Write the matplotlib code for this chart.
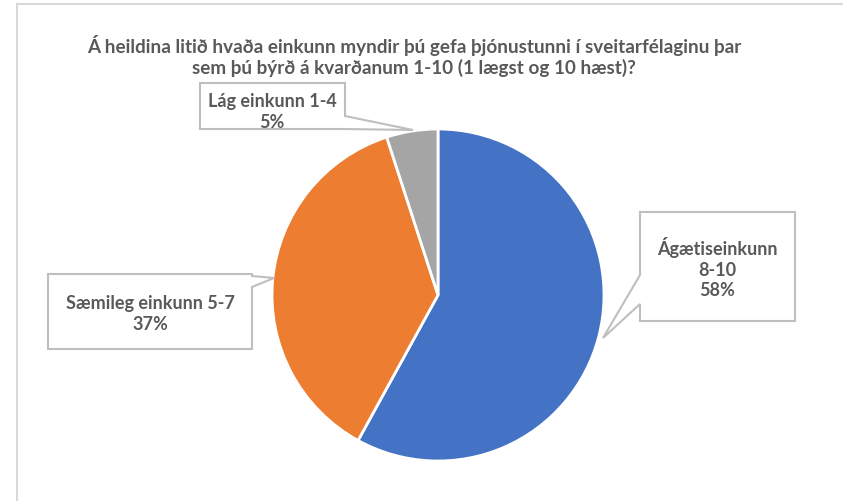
import matplotlib.pyplot as plt
from matplotlib.patches import Polygon

# data
labels = ["Ágætiseinkunn\n8-10", "Sæmileg einkunn 5-7", "Lág einkunn 1-4"]
shares = [58, 37, 5]
colors = ["#4472C4", "#ED7D31", "#A5A5A5"]
title = ("Á heildina litið hvaða einkunn myndir þú gefa þjónustunni í sveitarfélaginu þar\n"
         "sem þú býrð á kvarðanum 1-10 (1 lægst og 10 hæst)?")

W, H = 843, 501
txt_col = "#595959"
box_col = "#BFBFBF"
plt.rcParams['font.family'] = ['Lato', 'DejaVu Sans']

fig = plt.figure(figsize=(W/100, H/100), dpi=100)

# pie axes, placed in pixel terms
cx, cy, r = 438, 295, 166
ax = fig.add_axes([(cx-r)/W, (H-cy-r)/H, 2*r/W, 2*r/H])
ax.pie(shares, colors=colors, startangle=90, counterclock=False,
       wedgeprops=dict(edgecolor="white", linewidth=2))
ax.set_xlim(-1, 1)
ax.set_ylim(-1, 1)
ax.axis('off')

# overlay in pixel coords for frame, title and callouts
ov = fig.add_axes([0, 0, 1, 1], zorder=5)
ov.set_xlim(0, W)
ov.set_ylim(H, 0)
ov.axis('off')
ov.patch.set_alpha(0)

ov.plot([17, 17, W], [H, 4, 4], color="#D9D9D9", lw=1.5, solid_joinstyle='miter')

ov.text(414, 56, title, ha='center', va='center', fontsize=13.6, fontweight='bold',
        color=txt_col, linespacing=1.2)

# callout shapes: box plus pointer to its slice
callouts = [
    [(640, 212), (795, 212), (795, 321), (640, 321), (640, 304), (603, 338), (640, 275)],
    [(48, 274), (252, 274), (252, 276), (274, 278), (252, 287), (252, 349), (48, 349)],
    [(200, 83), (345, 83), (345, 116), (413, 130), (345, 129), (200, 129)],
]
for pts in callouts:
    ov.add_patch(Polygon(pts, closed=True, facecolor="white", edgecolor=box_col, lw=1.5))

label_pos = [(717, 268), (150, 314), (272, 112)]
for lab, val, (x, y) in zip(labels, shares, label_pos):
    ov.text(x, y, f"{lab}\n{val}%", ha='center', va='center', fontsize=13,
            fontweight='bold', color=txt_col, linespacing=1.25)

fig.savefig("out.png", dpi=100, facecolor="white")
